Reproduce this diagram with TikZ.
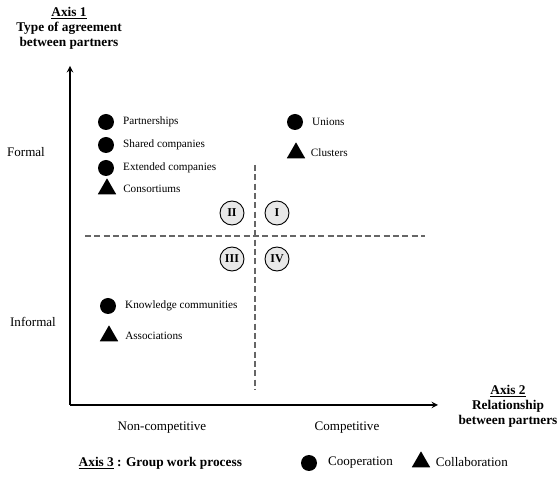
\documentclass[tikz,border=0pt]{standalone}
\usepackage{fontspec}
\setmainfont{Liberation Serif}
\usetikzlibrary{positioning,shapes.geometric}

\begin{document}
\begin{tikzpicture}[x=0.75pt,y=-0.75pt]
                \tikzstyle{axis} = [line width=1.1pt,->,>=stealth]
                \tikzstyle{split} = [dashed,gray!80!black,line width=0.9pt,dash pattern=on 4.5pt off 2.5pt]
                \tikzstyle{dot} = [circle, fill=black, inner sep=0pt, minimum size=12pt]
                \tikzstyle{tri} = [regular polygon, regular polygon sides=3, fill=black, inner sep=0pt, minimum size=16pt]
                \tikzstyle{item} = [inner sep=0pt, font=\fontsize{8.4}{10}\selectfont]
                \tikzstyle{quad} = [circle, draw, fill=gray!18, line width=0.7pt, inner sep=0pt, minimum size=18pt, font=\bfseries\fontsize{9}{10}\selectfont]
                \tikzstyle{level} = [font=\fontsize{9.8}{11}\selectfont]
                \tikzstyle{head} = [align=center, font=\bfseries\fontsize{10}{11.2}\selectfont]
                \useasboundingbox (0,0) rectangle (558,488);

                % axes
                \coordinate (origin) at (70,405);
                \coordinate (ytip) at (70,66);
                \coordinate (xtip) at (438,405);
                \draw [axis] (origin) -- (ytip);
                \draw [axis] (origin) -- (xtip);

                % quadrant split
                \coordinate (vtop) at (255,165);
                \coordinate (vbot) at (255,390);
                \coordinate (hleft) at (85,236);
                \coordinate (hright) at (425,236);
                \draw [split] (vtop) -- (vbot);
                \draw [split] (hleft) -- (hright);

                \node (q2) [quad] at (232,213) {II};
                \node (q1) [quad] at (277,213) {I};
                \node (q3) [quad] at (232,259) {III};
                \node (q4) [quad] at (277,259) {IV};

                % axis titles
                \node (axis1) [head] at (69,28) {\underline{Axis 1}\\Type of agreement\\between partners};
                \node (axis2) [head] at (508,406) {\underline{Axis 2}\\Relationship\\between partners};
                \node (axis3) [head, anchor=west] at (74,463) {\underline{Axis 3} : Group work process};

                \node (formal) [level] at (26,152) {Formal};
                \node (informal) [level] at (33,322) {Informal};
                \node (noncomp) [level] at (162,428) {Non-competitive};
                \node (comp) [level] at (347,428) {Competitive};

                % quadrant II
                \node (partner) [dot] at (106,122) {};
                \node (partnerL) [item, right=6.5pt of partner] {Partnerships};
                \node (shared) [dot] at (106,145) {};
                \node (sharedL) [item, right=6.5pt of shared] {Shared companies};
                \node (extended) [dot] at (106,168) {};
                \node (extendedL) [item, right=6.5pt of extended] {Extended companies};
                \node (consort) [tri] at (107,189) {};
                \node (consortL) [item, right=12pt of consort.center] {Consortiums};

                % quadrant I
                \node (unions) [dot] at (295,122) {};
                \node (unionsL) [item, right=6.5pt of unions] {Unions};
                \node (clusters) [tri] at (296,153) {};
                \node (clustersL) [item, right=11pt of clusters.center] {Clusters};

                % quadrant III
                \node (knowledge) [dot] at (108,306) {};
                \node (knowledgeL) [item, right=6.5pt of knowledge] {Knowledge communities};
                \node (assoc) [tri] at (109,336) {};
                \node (assocL) [item, right=12pt of assoc.center] {Associations};

                % legend
                \node (coop) [dot] at (309,463) {};
                \node (coopL) [level, inner sep=0pt, right=8pt of coop] {Cooperation};
                \node (collab) [tri] at (421,462) {};
                \node (collabL) [level, inner sep=0pt, right=11pt of collab.center] {Collaboration};
\end{tikzpicture}
\end{document}
